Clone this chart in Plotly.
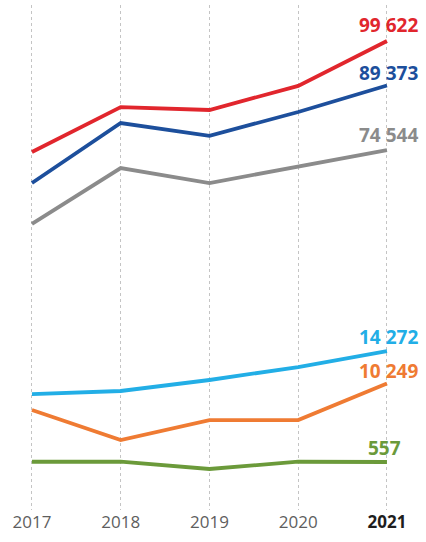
import plotly.graph_objects as go

years = [2017, 2018, 2019, 2020, 2021]
tick_labels = ["2017", "2018", "2019", "2020", "<b><span style='color:#1e1e1e'>2021</span></b>"]

# upper group (shared scale)
red_vals = [74100, 84400, 83750, 89300, 99622]
blue_vals = [66950, 80750, 77800, 83300, 89373]
gray_vals = [57550, 70400, 66950, 70850, 74544]
# lower group (shared scale)
lightblue_vals = [8950, 9330, 10690, 12290, 14272]
orange_vals = [6980, 3270, 5740, 5740, 10249]
# small series (own scale)
green_vals = [560, 560, 480, 560, 557]

end_labels = ["99 622", "89 373", "74 544", "14 272", "10 249", "557"]

RED = "#e1262d"
BLUE = "#1d4f9c"
GRAY = "#8b8b8b"
LBLUE = "#22aee6"
ORANGE = "#ef7b33"
GREEN = "#6b9a3a"

series = [
    (red_vals, RED, "y", end_labels[0], 33, 16),
    (blue_vals, BLUE, "y", end_labels[1], 33, 13),
    (gray_vals, GRAY, "y", end_labels[2], 33, 15),
    (lightblue_vals, LBLUE, "y2", end_labels[3], 33, 14),
    (orange_vals, ORANGE, "y2", end_labels[4], 33, 13),
    (green_vals, GREEN, "y3", end_labels[5], 16, 14),
]

fig = go.Figure()
annotations = []
for vals, col, ax, lab, xs, ys in series:
    fig.add_trace(go.Scatter(x=years, y=vals, mode="lines", yaxis=ax,
                             line=dict(color=col, width=3.8), hoverinfo="skip",
                             showlegend=False))
    annotations.append(dict(x=years[-1], y=vals[-1], xref="x", yref=ax,
                            text="<b>" + lab + "</b>", showarrow=False,
                            xanchor="right", yanchor="middle", xshift=xs, yshift=ys,
                            font=dict(family="Open Sans", size=19, color=col)))

fig.update_layout(
    width=426, height=542,
    margin=dict(l=0, r=0, t=5, b=32),
    paper_bgcolor="white", plot_bgcolor="white",
    annotations=annotations,
    xaxis=dict(range=[2016.64, 2021.44], tickvals=years, ticktext=tick_labels,
               showgrid=True, gridcolor="#c4c4c4", griddash="dot", gridwidth=1,
               zeroline=False, showline=False, ticks="",
               tickfont=dict(family="Open Sans", size=17, color="#5e5e5e")),
    yaxis=dict(range=[-8250, 107900], visible=False, showgrid=False, zeroline=False),
    yaxis2=dict(range=[-5380, 57040], overlaying="y", visible=False, showgrid=False, zeroline=False),
    yaxis3=dict(range=[29, 5584], overlaying="y", visible=False, showgrid=False, zeroline=False),
)

fig.write_html("out.html", config={"displayModeBar": False, "staticPlot": True},
               post_script="document.body.style.margin='0';document.body.style.padding='0';document.body.style.overflow='hidden';")
